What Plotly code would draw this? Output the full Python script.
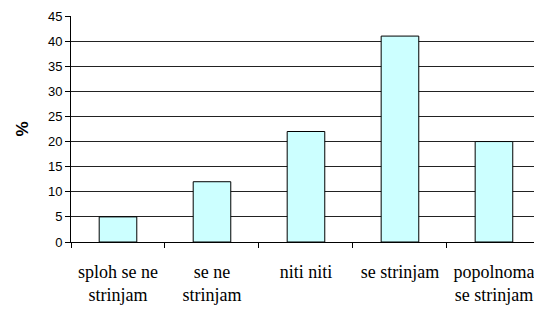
import plotly.graph_objects as go

categories = ["sploh se ne<br>strinjam", "se ne<br>strinjam", "niti niti", "se strinjam", "popolnoma<br>se strinjam"]
values = [5, 12, 22, 41, 20]
y_ticks = [0, 5, 10, 15, 20, 25, 30, 35, 40, 45]
y_title = "%"

fig = go.Figure(
    go.Bar(
        x=categories,
        y=values,
        width=0.4,
        marker=dict(color="#CCFFFF", line=dict(color="#000000", width=1)),
    )
)

fig.update_layout(
    width=534,
    height=309,
    margin=dict(l=71, r=0, t=16, b=67, autoexpand=False),
    paper_bgcolor="white",
    plot_bgcolor="white",
    showlegend=False,
)

fig.update_xaxes(
    type="category",
    range=[-0.5, 4.426],
    ticks="outside",
    ticklen=5,
    tickcolor="#000000",
    tickson="boundaries",
    showline=True,
    linecolor="#000000",
    linewidth=1,
    showgrid=False,
    zeroline=False,
    automargin=False,
    ticklabeloverflow="allow",
    tickfont=dict(family="Liberation Serif", size=18, color="#000000"),
    ticklabelstandoff=13,
)

fig.update_yaxes(
    range=[0, 45],
    tickmode="array",
    tickvals=y_ticks,
    ticks="outside",
    ticklen=5,
    tickcolor="#000000",
    showline=True,
    linecolor="#000000",
    linewidth=1,
    showgrid=True,
    gridcolor="#222222",
    gridwidth=1,
    zeroline=False,
    automargin=False,
    tickfont=dict(family="Liberation Sans", size=13, color="#000000"),
    title=dict(text="<b>" + y_title + "</b>", font=dict(family="Liberation Sans", size=17, color="#000000"), standoff=14),
)

fig.write_html(
    "out.html",
    config={"displayModeBar": False},
    post_script="document.body.style.margin='0';document.body.style.overflow='hidden';",
)
